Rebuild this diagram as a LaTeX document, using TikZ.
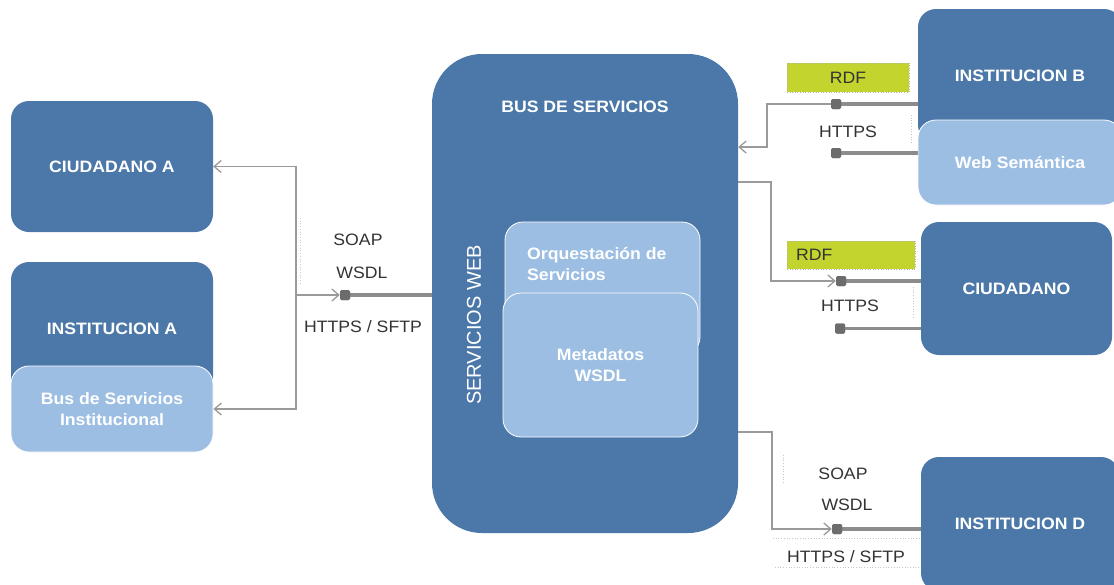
\documentclass[tikz,border=0pt]{standalone}
\usepackage{fontspec}
\setmainfont{Liberation Sans}[FakeStretch=1.07]
\newfontfamily\vertfont{Liberation Sans}
\usetikzlibrary{arrows.meta}

\definecolor{boxdark}{HTML}{4B78A8}
\definecolor{boxlight}{HTML}{9DBEE3}
\definecolor{linegray}{HTML}{9A9A9A}
\definecolor{thickgray}{HTML}{8C8C8C}
\definecolor{rdfgreen}{HTML}{C4D42E}
\definecolor{labeltext}{HTML}{333333}

\tikzset{
  boxfont/.style={font=\bfseries\fontsize{16.5}{21}\selectfont},
  darkbox/.style={fill=boxdark, rounded corners=18pt, inner sep=0pt,
    text=white, boxfont, align=center},
  lightbox/.style={fill=boxlight, draw=white, line width=0.8pt,
    rounded corners=18pt, inner sep=0pt, text=white, boxfont, align=center},
  busbox/.style={fill=boxdark, rounded corners=50pt, inner sep=0pt},
  tag/.style={text=labeltext, font=\fontsize{16.5}{20}\selectfont, inner sep=0pt},
  rdfbox/.style={fill=rdfgreen, draw=gray!60, dotted, line width=0.6pt,
    text=black!80, font=\fontsize{16.5}{20}\selectfont},
  conn/.style={draw=linegray, line width=1.3pt},
  heavy/.style={draw=thickgray, line width=3.6pt},
  arr/.style={-{Straight Barb[length=7pt,width=12pt,line width=1.3pt]}},
  sq/.style={fill=gray!85!black, minimum size=10pt, inner sep=0pt, rounded corners=1.5pt},
  faint/.style={draw=gray!45, dotted, line width=0.7pt},
}

\begin{document}
\begin{tikzpicture}[x=1pt,y=-1pt]
\clip (0,0) rectangle (1114,584);
\fill[white] (0,0) rectangle (1114,584);

% left side: citizen and institution A
\node[darkbox, minimum width=202pt, minimum height=131pt] (citA) at (112,166.5) {CIUDADANO A};
\node[darkbox, minimum width=202pt, minimum height=133pt] (instA) at (112,328.5) {INSTITUCION A};
\node[lightbox, minimum width=202pt, minimum height=86pt] (busInst) at (112,409) {Bus de Servicios\\Institucional};

% central service bus
\node[busbox, minimum width=306pt, minimum height=479pt] (bus) at (585,293.5) {};
\node[text=white, boxfont] (busTitle) at (585,107) {BUS DE SERVICIOS};
\node[text=white, font=\vertfont\fontsize{20}{24}\selectfont, rotate=90, inner sep=0pt] (ws) at (474,325) {SERVICIOS WEB};
\node[lightbox, minimum width=195pt, minimum height=133pt] (orq) at (602.5,288.5) {};
\node[text=white, boxfont, align=left, anchor=west, inner sep=0pt] (orqText) at (527,264.5) {Orquestación de\\Servicios};
\node[lightbox, minimum width=195pt, minimum height=144pt] (meta) at (600.5,365) {Metadatos\\WSDL};

% right side
\node[darkbox, minimum width=204pt, minimum height=134pt] (instB) at (1020,76) {INSTITUCION B};
\node[lightbox, minimum width=204pt, minimum height=85pt] (webSem) at (1020,162.5) {Web Semántica};
\node[darkbox, minimum width=191pt, minimum height=133pt] (cit) at (1016.5,288.5) {CIUDADANO};
\node[darkbox, minimum width=198pt, minimum height=134pt] (instD) at (1020,524) {INSTITUCION D};

% RDF tags
\node[rdfbox, minimum width=122pt, minimum height=29pt] (rdf1) at (848,77.5) {RDF};
\node[rdfbox, minimum height=28pt, text width=110pt, inner xsep=9pt, align=left] (rdf2) at (851,255) {RDF};

% faint text-frame marks
\draw[faint] (300,218) -- (300,283);
\draw[faint] (911,115) -- (911,143);
\draw[faint] (913,287) -- (913,317);
\draw[faint] (783,455) -- (783,484);
\draw[faint] (773,538) -- (920,538);
\draw[faint] (775,567) -- (920,567);

% left connectors
\coordinate (jL) at (296,295);
\node[sq] (sqL) at (345,295) {};
\draw[heavy] (sqL.center) -- (sqL -| bus.west);
\node[sq] at (sqL) {};
\draw[conn, arr] (jL) |- (citA.east);
\draw[conn, arr] (jL) |- (busInst.east);
\draw[conn, arr] (jL) -- (sqL.west);

% institution B connectors
\node[sq] (sqB1) at (836,104) {};
\node[sq] (sqB2) at (836,153) {};
\draw[heavy] (sqB1.center) -- (sqB1 -| instB.west);
\draw[heavy] (sqB2.center) -- (sqB2 -| webSem.west);
\node[sq] at (sqB1) {};
\node[sq] at (sqB2) {};
\coordinate (kB) at (767,147);
\draw[conn, arr] (sqB1.west) -| (kB) -- (kB -| bus.east);

% citizen connectors
\node[sq] (sqC1) at (841,281) {};
\node[sq] (sqC2) at (840,328.5) {};
\draw[heavy] (sqC1.center) -- (sqC1 -| cit.west);
\draw[heavy] (sqC2.center) -- (sqC2 -| cit.west);
\node[sq] at (sqC1) {};
\node[sq] at (sqC2) {};
\coordinate (kC) at (771,182);
\draw[conn, arr] (kC -| bus.east) -- (kC) |- (sqC1.west);

% institution D connector
\node[sq] (sqD) at (837,529) {};
\draw[heavy] (sqD.center) -- (sqD -| instD.west);
\node[sq] at (sqD) {};
\coordinate (kD) at (772,432);
\draw[conn, arr] (kD -| bus.east) -- (kD) |- (sqD.west);

% protocol labels
\node[tag] (soapL) at (358,240) {SOAP};
\node[tag] (wsdlL) at (362,273) {WSDL};
\node[tag] (httpsL) at (363,327) {HTTPS / SFTP};
\node[tag] (httpsB) at (848,132) {HTTPS};
\node[tag] (httpsC) at (850,306) {HTTPS};
\node[tag] (soapD) at (843,474) {SOAP};
\node[tag] (wsdlD) at (847,505) {WSDL};
\node[tag] (httpsD) at (846,557) {HTTPS / SFTP};
\end{tikzpicture}
\end{document}
